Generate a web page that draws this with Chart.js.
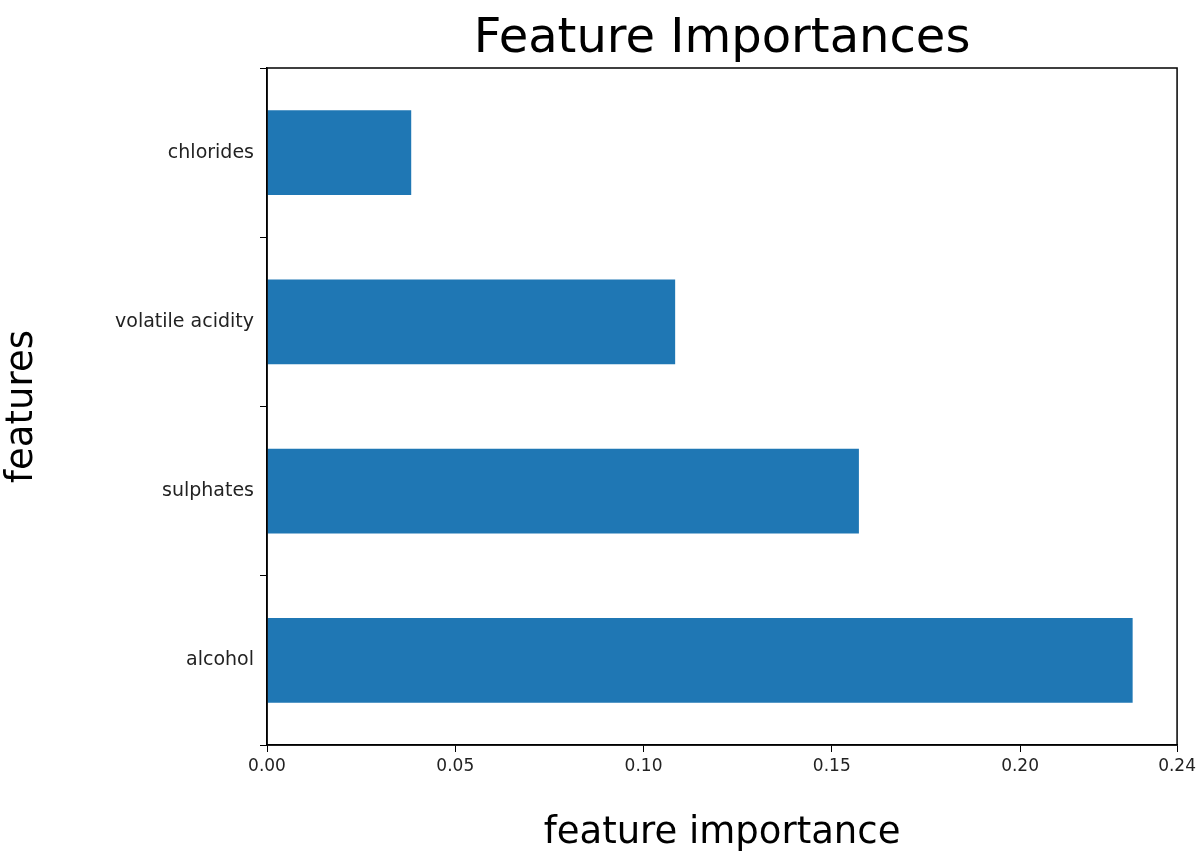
<!DOCTYPE html>
<html><head><meta charset="utf-8">
<script src="https://cdn.jsdelivr.net/npm/chart.js@4"></script>
<style>html,body{margin:0;padding:0;background:#fff}#wrap{width:1200px;height:856px}</style>
</head><body><div id="wrap"><canvas id="c" width="1200" height="856"></canvas></div>
<script>
const categories = ["chlorides", "volatile acidity", "sulphates", "alcohol"];
const importances = [0.0383, 0.1084, 0.1572, 0.2299];
const titleText = "Feature Importances";
const xTitle = "feature importance";
const yTitle = "features";
const F = "'DejaVu Sans', sans-serif";

const deco = {
  id: 'deco',
  afterDraw(chart) {
    const {ctx, chartArea: a} = chart;
    ctx.save();
    ctx.strokeStyle = '#000'; ctx.lineWidth = 1.5;
    ctx.strokeRect(a.left, a.top, a.right - a.left, a.bottom - a.top);
    ctx.fillStyle = '#000';
    ctx.font = "48px " + F;
    ctx.textAlign = 'center'; ctx.textBaseline = 'alphabetic';
    ctx.fillText(titleText, (a.left + a.right) / 2, 52);
    ctx.restore();
  }
};

new Chart(document.getElementById('c'), {
  type: 'bar',
  data: { labels: categories, datasets: [{ data: importances, backgroundColor: '#1f77b4', barPercentage: 0.5, categoryPercentage: 1 }] },
  options: {
    indexAxis: 'y', responsive: false, animation: false, devicePixelRatio: 1,
    layout: { padding: { top: 68, right: 12, left: 0, bottom: 0 } },
    plugins: { legend: { display: false }, tooltip: { enabled: false } },
    scales: {
      x: {
        type: 'linear', min: 0, max: 0.2417,
        ticks: { stepSize: 0.05, color: '#222', font: { size: 17, family: F }, padding: 4, callback: v => v.toFixed(2) },
        grid: { display: true, drawOnChartArea: false, drawTicks: true, tickLength: 7, color: '#000' },
        border: { color: '#000', width: 1.5 },
        title: { display: true, text: xTitle, color: '#000', font: { size: 37, family: F }, padding: { top: 4, bottom: 0 } },
        afterFit(s) { s.height = 111; }
      },
      y: {
        ticks: { color: '#222', font: { size: 19, family: F }, padding: 6 },
        grid: { display: true, drawOnChartArea: false, drawTicks: true, tickLength: 7, color: '#000' },
        border: { color: '#000', width: 1.5 },
        title: { display: true, text: yTitle, color: '#000', font: { size: 37, family: F }, padding: { top: 0, bottom: 4 } },
        afterFit(s) { s.width = 267; }
      }
    }
  },
  plugins: [deco]
});
</script></body></html>
